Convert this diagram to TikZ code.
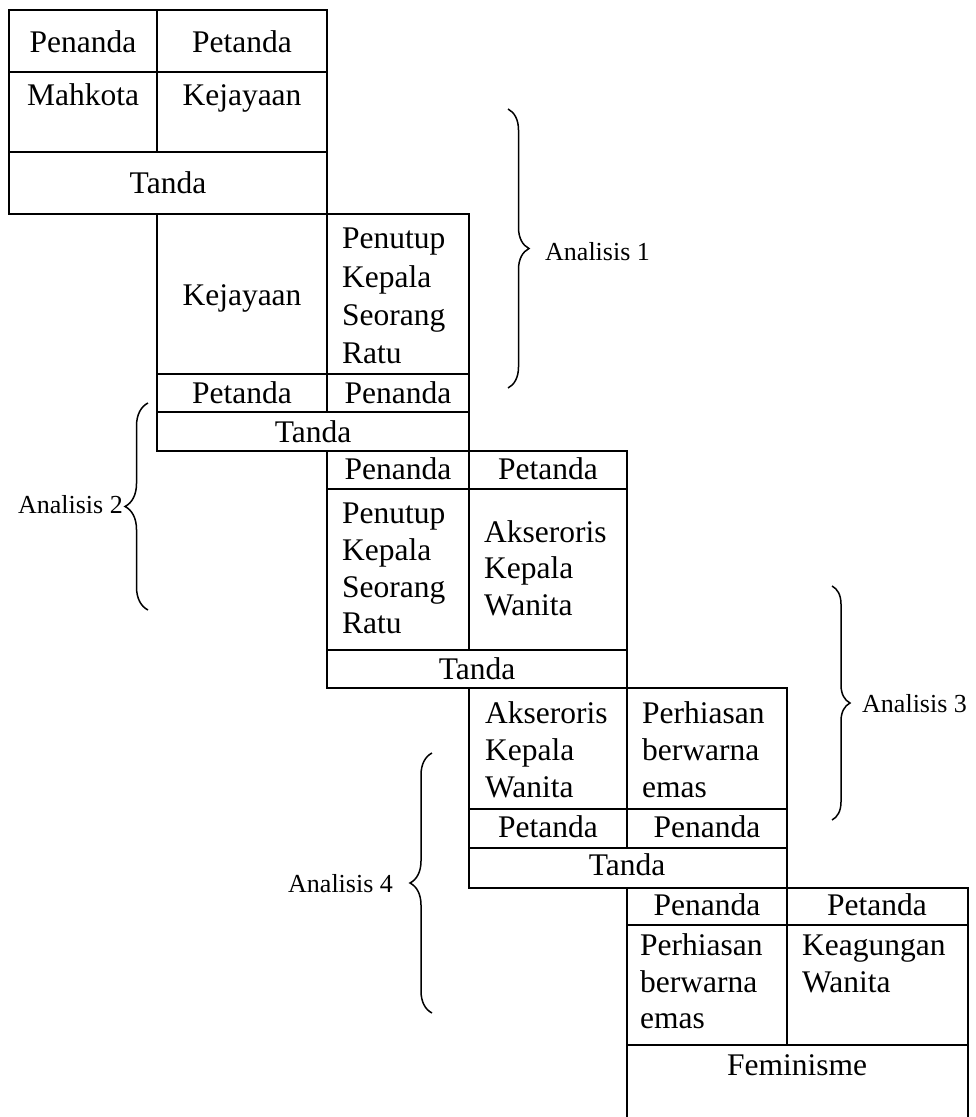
\documentclass[tikz,border=0pt]{standalone}
\usepackage{fontspec}
\setmainfont{Liberation Serif}
\usetikzlibrary{fit,decorations.pathreplacing}
\begin{document}
\begin{tikzpicture}[x=1pt,y=-1pt,
  cell/.style={draw, line width=2.2pt, inner sep=0pt},
  txt/.style={font=\fontsize{31.5}{36}\selectfont, inner sep=0pt, anchor=base},
  txl/.style={txt, anchor=base west},
  lbl/.style={font=\fontsize{26}{30}\selectfont, inner sep=0pt, anchor=base west},
  lbr/.style={lbl, anchor=base east},
  brc/.style={decorate, decoration={brace, amplitude=#1}, line width=1.5pt}]
\clip (0,0) rectangle (976,1117);

% Table 1: Mahkota
\node[cell, fit={(9,10) (157,72)}] (a1) {};
\node[cell, fit={(157,10) (327,72)}] (a2) {};
\node[cell, fit={(9,72) (157,152)}] (a3) {};
\node[cell, fit={(157,72) (327,152)}] (a4) {};
\node[cell, fit={(9,152) (327,214)}] (a5) {};
\node[txt] (a1t) at (83,52) {Penanda};
\node[txt] (a2t) at (242,52) {Petanda};
\node[txt] (a3t) at (83,105) {Mahkota};
\node[txt] (a4t) at (242,105) {Kejayaan};
\node[txt] (a5t) at (168,193) {Tanda};

% Table 2
\node[cell, fit={(157,214) (327,374)}] (b1) {};
\node[cell, fit={(327,214) (469,374)}] (b2) {};
\node[cell, fit={(157,374) (327,412)}] (b3) {};
\node[cell, fit={(327,374) (469,412)}] (b4) {};
\node[cell, fit={(157,412) (469,451)}] (b5) {};
\node[txt] (b1t) at (242,305) {Kejayaan};
\node[txl] (b2t1) at (342,248) {Penutup};
\node[txl] (b2t2) at (342,287) {Kepala};
\node[txl] (b2t3) at (342,325) {Seorang};
\node[txl] (b2t4) at (342,363) {Ratu};
\node[txt] (b3t) at (242,403) {Petanda};
\node[txt] (b4t) at (398,403) {Penanda};
\node[txt] (b5t) at (313,442) {Tanda};

% Table 3
\node[cell, fit={(327,451) (469,489)}] (c1) {};
\node[cell, fit={(469,451) (627,489)}] (c2) {};
\node[cell, fit={(327,489) (469,650)}] (c3) {};
\node[cell, fit={(469,489) (627,650)}] (c4) {};
\node[cell, fit={(327,650) (627,688)}] (c5) {};
\node[txt] (c1t) at (398,479) {Penanda};
\node[txt] (c2t) at (548,479) {Petanda};
\node[txl] (c3t1) at (342,523) {Penutup};
\node[txl] (c3t2) at (342,560) {Kepala};
\node[txl] (c3t3) at (342,597) {Seorang};
\node[txl] (c3t4) at (342,633) {Ratu};
\node[txl] (c4t1) at (484,542) {Akseroris};
\node[txl] (c4t2) at (484,578) {Kepala};
\node[txl] (c4t3) at (484,615) {Wanita};
\node[txt] (c5t) at (477,679) {Tanda};

% Table 4
\node[cell, fit={(469,688) (627,809)}] (d1) {};
\node[cell, fit={(627,688) (787,809)}] (d2) {};
\node[cell, fit={(469,809) (627,848)}] (d3) {};
\node[cell, fit={(627,809) (787,848)}] (d4) {};
\node[cell, fit={(469,848) (787,888)}] (d5) {};
\node[txl] (d1t1) at (485,723) {Akseroris};
\node[txl] (d1t2) at (485,760) {Kepala};
\node[txl] (d1t3) at (485,797) {Wanita};
\node[txl] (d2t1) at (642,723) {Perhiasan};
\node[txl] (d2t2) at (642,760) {berwarna};
\node[txl] (d2t3) at (642,797) {emas};
\node[txt] (d3t) at (548,837) {Petanda};
\node[txt] (d4t) at (707,837) {Penanda};
\node[txt] (d5t) at (627,875) {Tanda};

% Table 5
\node[cell, fit={(627,888) (787,925)}] (e1) {};
\node[cell, fit={(787,888) (968,925)}] (e2) {};
\node[cell, fit={(627,925) (787,1045)}] (e3) {};
\node[cell, fit={(787,925) (968,1045)}] (e4) {};
\node[cell, fit={(627,1045) (968,1130)}] (e5) {};
\node[txt] (e1t) at (707,915) {Penanda};
\node[txt] (e2t) at (877,915) {Petanda};
\node[txl] (e3t1) at (640,955) {Perhiasan};
\node[txl] (e3t2) at (640,992) {berwarna};
\node[txl] (e3t3) at (640,1028) {emas};
\node[txl] (e4t1) at (802,955) {Keagungan};
\node[txl] (e4t2) at (802,992) {Wanita};
\node[txt] (e5t) at (797,1075) {Feminisme};

% Braces grouping each analysis step
\coordinate (k1a) at (508,109);  \coordinate (k1b) at (508,388);
\coordinate (k2a) at (148,610);  \coordinate (k2b) at (148,403);
\coordinate (k3a) at (832,586);  \coordinate (k3b) at (832,820);
\coordinate (k4a) at (432,1013); \coordinate (k4b) at (432,753);
\draw[brc=21pt] (k1a) -- (k1b);
\draw[brc=23pt] (k2a) -- (k2b);
\draw[brc=18pt] (k3a) -- (k3b);
\draw[brc=22pt] (k4a) -- (k4b);
\node[lbl] (an1) at (545,260) {Analisis 1};
\node[lbr] (an2) at (123,513) {Analisis 2};
\node[lbl] (an3) at (862,712) {Analisis 3};
\node[lbl] (an4) at (288,892) {Analisis 4};
\end{tikzpicture}
\end{document}
